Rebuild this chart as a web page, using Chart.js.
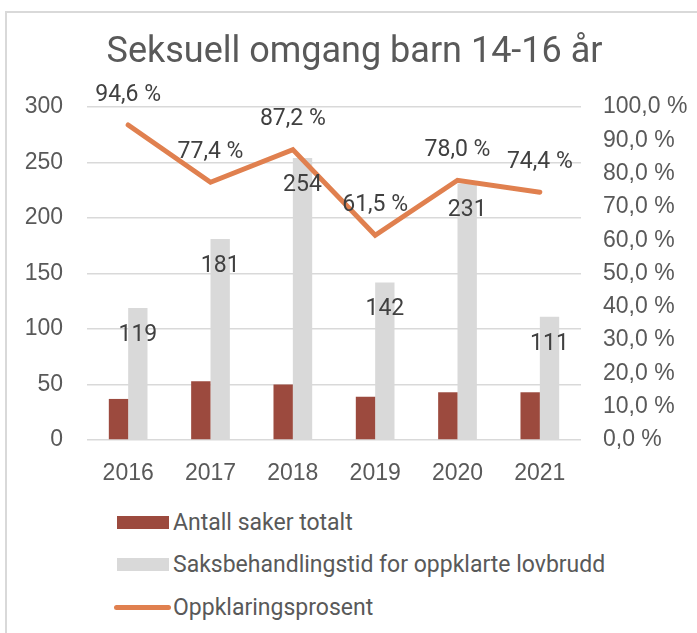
<!DOCTYPE html>
<html lang="no">
<head>
<meta charset="utf-8">
<title>Seksuell omgang barn 14-16 år</title>
<script src="https://cdn.jsdelivr.net/npm/chart.js@4"></script>
<style>
  body { margin: 0; background: #fff; font-family: Roboto, "Liberation Sans", sans-serif; }
  #wrap { position: relative; width: 697px; height: 633px; overflow: hidden; }
  #frame { position: absolute; left: 5px; top: 11px; width: 720px; height: 660px; border: 2px solid #d9d9d9; box-sizing: border-box; }
  #chart-box { position: absolute; left: 12px; top: 0; width: 685px; height: 490px; }
  #legend { position: absolute; left: 117px; top: 501px; list-style: none; margin: 0; padding: 0; }
  #legend li { display: flex; align-items: center; height: 42.5px; font-size: 23px; color: #595959; }
  #legend .swatch { width: 52px; height: 13px; margin-right: 4px; }
  #legend .swatch.line { height: 5px; border-radius: 3px; width: 57px; margin-left: -3px; margin-right: 2px; }
</style>
</head>
<body>
<div id="wrap">
  <div id="frame"></div>
  <div id="chart-box"><canvas id="my-chart" width="685" height="490"></canvas></div>
  <ul id="legend"></ul>
</div>
<script>
'use strict';

// ******** DATA **************
let years = ['2016', '2017', '2018', '2019', '2020', '2021'];
let antallSaker = [37, 53, 50, 39, 43, 43];
let saksbehandlingstid = [119, 181, 254, 142, 231, 111];
let oppklaringsprosent = [94.6, 77.4, 87.2, 61.5, 78.0, 74.4];

let leftTicks = [0, 50, 100, 150, 200, 250, 300];
let rightTicks = [0, 10, 20, 30, 40, 50, 60, 70, 80, 90, 100];

// ******** COLOURS **************
let red = '#9c4a3e';
let grey = '#d9d9d9';
let orange = '#e0804f';
let textGrey = '#595959';
let labelGrey = '#404040';

function pct(v) {
  return v.toFixed(1).replace('.', ',') + ' %';
}

// *** draws the value labels (no datalabels plugin available) ***
let valueLabels = {
  id: 'valueLabels',
  afterDatasetsDraw(chart) {
    let ctx = chart.ctx;
    ctx.save();
    ctx.font = '23px Roboto, "Liberation Sans", sans-serif';
    ctx.fillStyle = labelGrey;
    ctx.textAlign = 'center';
    ctx.textBaseline = 'middle';

    let barMeta = chart.getDatasetMeta(1);
    barMeta.data.forEach(function (bar, i) {
      ctx.fillText(String(saksbehandlingstid[i]), bar.x, bar.y + 27);
    });

    let lineMeta = chart.getDatasetMeta(2);
    lineMeta.data.forEach(function (pt, i) {
      ctx.fillText(pct(oppklaringsprosent[i]), pt.x, pt.y - 30);
    });
    ctx.restore();
  }
};

let canvasElem = document.getElementById('my-chart');

let myChart = new Chart(canvasElem, {
  type: 'bar',
  data: {
    labels: years,
    datasets: [
      {
        label: 'Antall saker totalt',
        data: antallSaker,
        backgroundColor: red,
        yAxisID: 'y',
        barPercentage: 1,
        categoryPercentage: 0.47,
        order: 1
      },
      {
        label: 'Saksbehandlingstid for oppklarte lovbrudd',
        data: saksbehandlingstid,
        backgroundColor: grey,
        yAxisID: 'y',
        barPercentage: 1,
        categoryPercentage: 0.47,
        order: 2
      },
      {
        type: 'line',
        label: 'Oppklaringsprosent',
        data: oppklaringsprosent,
        borderColor: orange,
        backgroundColor: orange,
        borderWidth: 5,
        pointRadius: 0,
        borderCapStyle: 'round',
        borderJoinStyle: 'miter',
        tension: 0,
        yAxisID: 'y1',
        order: 0
      }
    ]
  },
  options: {
    responsive: false,
    animation: false,
    layout: { padding: 0 },
    plugins: {
      legend: { display: false },
      tooltip: { enabled: false },
      title: {
        display: true,
        text: 'Seksuell omgang barn 14-16 år',
        color: textGrey,
        font: { family: 'Roboto, "Liberation Sans", sans-serif', size: 36, weight: 'normal', lineHeight: 1.2 },
        padding: { top: 31.4, bottom: 32.4 }
      }
    },
    scales: {
      x: {
        grid: { display: false },
        border: { display: false },
        ticks: { color: textGrey, font: { size: 23 }, padding: 12 },
        afterFit(scale) { scale.height = 50; }
      },
      y: {
        position: 'left',
        min: 0,
        max: 300,
        afterBuildTicks(scale) { scale.ticks = leftTicks.map(v => ({ value: v })); },
        grid: { color: grey, lineWidth: 1.5, drawTicks: false },
        border: { display: false },
        ticks: { color: textGrey, font: { size: 23 }, padding: 24 },
        afterFit(scale) { scale.width = 75; }
      },
      y1: {
        position: 'right',
        min: 0,
        max: 100,
        afterBuildTicks(scale) { scale.ticks = rightTicks.map(v => ({ value: v })); },
        grid: { display: false },
        border: { display: false },
        ticks: { color: textGrey, font: { size: 23 }, padding: 14, callback: v => pct(v) },
        afterFit(scale) { scale.width = 116; }
      }
    }
  },
  plugins: [valueLabels]
});

// ******** HTML LEGEND (one item per row) **************
let legendList = document.getElementById('legend');
myChart.data.datasets.forEach(function (ds) {
  let li = document.createElement('li');
  let sw = document.createElement('span');
  sw.className = ds.type === 'line' ? 'swatch line' : 'swatch';
  sw.style.background = ds.type === 'line' ? ds.borderColor : ds.backgroundColor;
  li.appendChild(sw);
  li.appendChild(document.createTextNode(ds.label));
  legendList.appendChild(li);
});
</script>
</body>
</html>
